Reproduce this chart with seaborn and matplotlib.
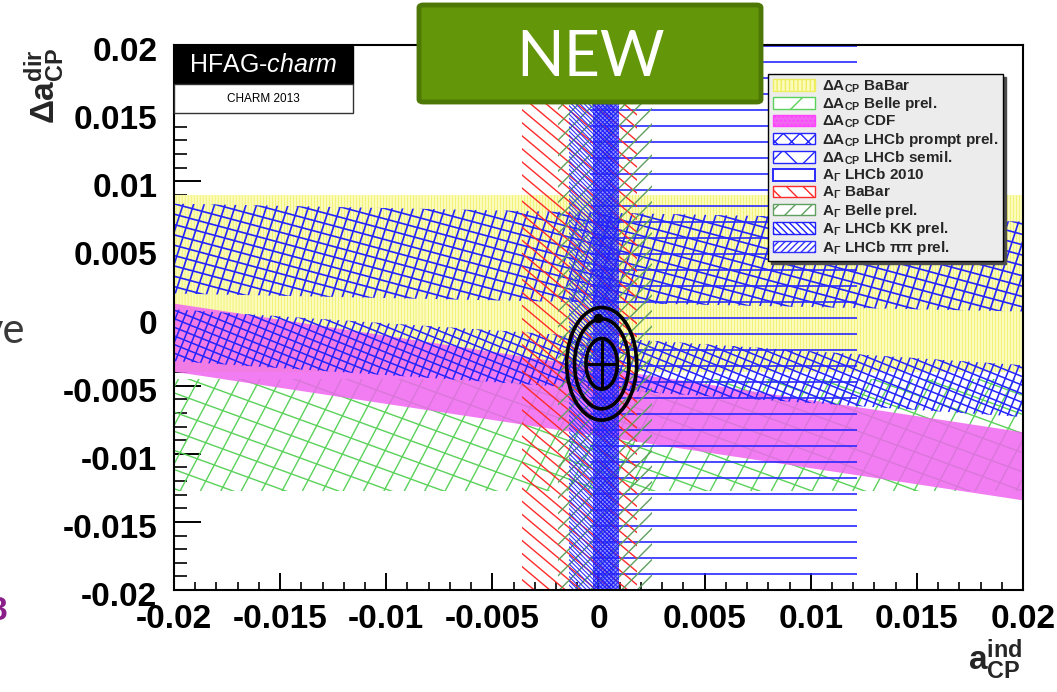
import numpy as np
import matplotlib
matplotlib.use("Agg")
import matplotlib.pyplot as plt
import matplotlib.transforms as mtransforms
import seaborn as sns
import pandas as pd
from matplotlib.patches import Polygon, Rectangle, Ellipse, Patch, FancyBboxPatch
from matplotlib.collections import LineCollection

# ---------------- measurements ----------------
# Delta A_CP bands:  Delta a_dir = center + slope * a_ind  +/- halfwidth
dacp_names = ["BaBar", "Belle prel.", "CDF", "LHCb prompt prel.", "LHCb semil."]
dacp_center = [0.0025, -0.00865, -0.0062, -0.00335, 0.0044]
dacp_halfwidth = [0.0065, 0.0041, 0.0025, 0.0019, 0.0033]
dacp_slope = [0.0, 0.0, -0.236, -0.1025, -0.033]

# A_Gamma bands:  a_ind = center +/- err  (vertical bands)
agam_names = ["LHCb 2010", "BaBar", "Belle prel.", "LHCb KK prel.", "LHCb \u03c0\u03c0 prel."]
agam_center = [0.0059, -0.0009, 0.0003, 0.00035, -0.00033]
agam_err = [0.0063, 0.0027, 0.0022, 0.00063, 0.00107]

# combined fit: central value, 1D errors and contour half-axes
fit_x, fit_y = 0.00015, -0.0034
fit_ex, fit_ey = 0.00068, 0.0017
contour_rx = [0.00074, 0.00128, 0.00165]
contour_ry = [0.00186, 0.0033, 0.00413]
# no-CPV point
nocpv = pd.DataFrame({"a_ind": [0.0], "da_dir": [0.0]})

xlim = (-0.02, 0.02)
ylim = (-0.02, 0.02)
major_ticks = [-0.02, -0.015, -0.01, -0.005, 0, 0.005, 0.01, 0.015, 0.02]
tick_labels = ["-0.02", "-0.015", "-0.01", "-0.005", "0", "0.005", "0.01", "0.015", "0.02"]

# ---------------- style ----------------
sns.set_style("white")
plt.rcParams["font.family"] = ["Liberation Sans", "DejaVu Sans"]
plt.rcParams["axes.unicode_minus"] = False
plt.rcParams["mathtext.fontset"] = "custom"
plt.rcParams["mathtext.rm"] = "Liberation Sans:bold"
plt.rcParams["mathtext.bf"] = "Liberation Sans:bold"
plt.rcParams["mathtext.it"] = "Liberation Sans:italic"
plt.rcParams["mathtext.default"] = "bf"
plt.rcParams["hatch.linewidth"] = 1.0

W_PX, H_PX = 1057, 692
fig = plt.figure(figsize=(W_PX / 100, H_PX / 100), dpi=100)
fig.patch.set_facecolor("white")


def fx(px):
    return px / W_PX


def fy(py):
    return 1 - py / H_PX


ax = fig.add_axes([fx(174), fy(590), fx(1023) - fx(174), fy(45) - fy(590)])
ax.set_xlim(*xlim)
ax.set_ylim(*ylim)
ax.set_facecolor("white")


def hatch_band(verts, angles, spacing, color, lw, z):
    """Parallel line texture (angles in screen degrees, spacing in px) clipped to a polygon."""
    clip = Polygon(verts, closed=True, transform=ax.transData, fill=False,
                   linewidth=0, edgecolor="none")
    ax.add_patch(clip)
    W, H = ax.bbox.width, ax.bbox.height
    L = np.hypot(W, H)
    c = np.array([W / 2, H / 2])
    segs = []
    for a in angles:
        t = np.deg2rad(a)
        d = np.array([np.cos(t), np.sin(t)])
        n = np.array([-np.sin(t), np.cos(t)])
        m = int(np.ceil(L / 2 / spacing)) + 1
        for k in range(-m, m + 1):
            p = c + k * spacing * n
            p0, p1 = p - L * d, p + L * d
            segs.append([(p0[0] / W, p0[1] / H), (p1[0] / W, p1[1] / H)])
    lc = LineCollection(segs, colors=color, linewidths=lw, transform=ax.transAxes, zorder=z)
    ax.add_collection(lc, autolim=False)
    lc.set_clip_path(clip)
    return lc


def dacp_verts(i):
    x0, x1 = xlim
    lo0 = dacp_center[i] + dacp_slope[i] * x0 - dacp_halfwidth[i]
    hi0 = dacp_center[i] + dacp_slope[i] * x0 + dacp_halfwidth[i]
    lo1 = dacp_center[i] + dacp_slope[i] * x1 - dacp_halfwidth[i]
    hi1 = dacp_center[i] + dacp_slope[i] * x1 + dacp_halfwidth[i]
    return [(x0, lo0), (x1, lo1), (x1, hi1), (x0, hi0)]


def agam_verts(i):
    l = agam_center[i] - agam_err[i]
    r = agam_center[i] + agam_err[i]
    return [(l, ylim[0]), (r, ylim[0]), (r, ylim[1]), (l, ylim[1])]


# ---- Delta A_CP bands ----
# BaBar: pale yellow with fine vertical lines
ax.add_patch(Polygon(dacp_verts(0), closed=True, facecolor="#fbfbbc", edgecolor="none", zorder=1))
hatch_band(dacp_verts(0), [90], 3.0, "#f2f270", 0.6, 1.1)
# Belle: green crosshatch
hatch_band(dacp_verts(1), [62, -20], 18, "#5ad25a", 1.0, 2)
# CDF: magenta
ax.add_patch(Polygon(dacp_verts(2), closed=True, facecolor="#f066f0", edgecolor="none",
                     alpha=0.85, zorder=3))
# LHCb prompt / semileptonic: blue crosshatch
hatch_band(dacp_verts(3), [68, -22], 8, "#2424ff", 1.1, 4)
hatch_band(dacp_verts(4), [72, -15], 10, "#2424ff", 1.2, 4.1)

# ---- A_Gamma bands ----
hatch_band(agam_verts(0), [0], 16, "#2a2aff", 1.2, 5)
hatch_band(agam_verts(1), [-40], 10, "#ff2a2a", 1.0, 5.1)
hatch_band(agam_verts(2), [45], 11, "#5f9f5f", 1.0, 5.2)
hatch_band(agam_verts(4), [-45], 3.0, "#3030ff", 0.8, 5.3)
ax.add_patch(Polygon(agam_verts(3), closed=True, facecolor="#3a3aff", edgecolor="none",
                     alpha=0.55, zorder=5.4))
hatch_band(agam_verts(3), [45, -45], 3.0, "#1a1aff", 0.6, 5.5)

# ---- combined fit ----
for rx, ry in zip(contour_rx, contour_ry):
    ax.add_patch(Ellipse((fit_x, fit_y), 2 * rx, 2 * ry, fill=False, edgecolor="black",
                         linewidth=2.6, zorder=10))
ax.plot([fit_x - fit_ex, fit_x + fit_ex], [fit_y, fit_y], color="black", lw=2.2, zorder=11)
ax.plot([fit_x, fit_x], [fit_y - fit_ey, fit_y + fit_ey], color="black", lw=2.2, zorder=11)
sns.scatterplot(data=nocpv, x="a_ind", y="da_dir", ax=ax, color="black", s=40,
                edgecolor="black", zorder=12, legend=False)

# ---- axes ----
ax.set_xticks(major_ticks)
ax.set_xticklabels(tick_labels)
ax.set_yticks(major_ticks)
ax.set_yticklabels(tick_labels)
ax.set_xticks(np.arange(-0.02, 0.02001, 0.001), minor=True)
ax.set_yticks(np.arange(-0.02, 0.02001, 0.001), minor=True)
ax.tick_params(axis="both", which="both", direction="in", top=False, right=False,
               bottom=True, left=True, colors="black", zorder=20)
ax.tick_params(axis="x", which="major", length=12, width=1.4, pad=10, labelsize=24)
ax.tick_params(axis="x", which="minor", length=6, width=1.2)
ax.tick_params(axis="y", which="major", length=19.5, width=1.4, pad=12, labelsize=24)
ax.tick_params(axis="y", which="minor", length=9.5, width=1.2)
shift_down = mtransforms.ScaledTranslation(0, -0.04, fig.dpi_scale_trans)
for lab in ax.get_xticklabels() + ax.get_yticklabels():
    lab.set_fontweight("bold")
for lab in ax.get_yticklabels():
    lab.set_transform(lab.get_transform() + shift_down)
for sp in ax.spines.values():
    sp.set_visible(True)
    sp.set_color("black")
    sp.set_linewidth(1.5)
    sp.set_zorder(25)
ax.set_xlabel("")
ax.set_ylabel("")

fig.text(fx(995), fy(660), r"$a^{ind}_{CP}$", fontsize=24, ha="center", va="center")
fig.text(fx(45), fy(86), r"$\Delta a^{dir}_{CP}$", fontsize=24, ha="center", va="center",
         rotation=90)

# ---- legend ----
handles = [
    Patch(facecolor="#fbfbbc", edgecolor="#eeee60", hatch="||||", linewidth=1),
    Patch(facecolor="white", edgecolor="#5ad25a", hatch="/", linewidth=1),
    Patch(facecolor="#f066f0", edgecolor="#ff44ff", hatch="....", linewidth=1),
    Patch(facecolor="white", edgecolor="#2424ff", hatch="xx", linewidth=1),
    Patch(facecolor="white", edgecolor="#2424ff", hatch="x", linewidth=1),
    Patch(facecolor="white", edgecolor="#2a2aff", linewidth=1.4),
    Patch(facecolor="white", edgecolor="#ff2a2a", hatch="\\\\", linewidth=1),
    Patch(facecolor="white", edgecolor="#5f9f5f", hatch="//", linewidth=1),
    Patch(facecolor="white", edgecolor="#2020ff", hatch="\\\\\\\\\\", linewidth=1),
    Patch(facecolor="white", edgecolor="#3030ff", hatch="/////", linewidth=1),
]
labels = ["\u0394A$_{CP}$ " + n for n in dacp_names] + ["A$_{\\Gamma}$ " + n for n in agam_names]
leg = ax.legend(handles, labels, loc="upper left", bbox_to_anchor=(fx(768), fy(74)),
                bbox_transform=fig.transFigure, frameon=True, fancybox=False,
                shadow={"color": "0.3", "alpha": 1.0}, facecolor="#ececec", edgecolor="black",
                framealpha=1, borderaxespad=0, borderpad=0.3, handlelength=2.8,
                handleheight=0.8, handletextpad=0.45, labelspacing=0.03,
                prop={"weight": "bold", "size": 11})
leg.get_frame().set_linewidth(1.0)
leg.set_zorder(30)

# ---- HFAG label ----
fig.add_artist(Rectangle((fx(174), fy(84)), fx(353) - fx(174), fy(46) - fy(84),
                         transform=fig.transFigure, facecolor="black", edgecolor="black",
                         linewidth=1, zorder=40))
fig.add_artist(Rectangle((fx(174), fy(113)), fx(353) - fx(174), fy(84) - fy(113),
                         transform=fig.transFigure, facecolor="white", edgecolor="#333333",
                         linewidth=1, zorder=40))
fig.text(fx(263), fy(65), r"HFAG-$\mathit{charm}$", color="white", fontsize=18,
         ha="center", va="center", zorder=41, fontweight="normal")
fig.text(fx(263), fy(99), "CHARM 2013", color="black", fontsize=8.5,
         ha="center", va="center", zorder=41)

# ---- NEW badge ----
fig.add_artist(FancyBboxPatch((fx(419), fy(102)), fx(761) - fx(419), fy(5) - fy(102),
                              boxstyle="round,pad=0,rounding_size=0.004",
                              transform=fig.transFigure, facecolor="#64960a",
                              edgecolor="#4d7806", linewidth=3.5, zorder=45))
fig.text(fx(591), fy(58), "NEW", color="white", fontsize=45, family=["Lato", "DejaVu Sans"],
         fontweight="normal", ha="center", va="center", zorder=46)

# slide fragments around the chart
fig.text(fx(25), fy(343), "ve", color="#3a3a3a", fontsize=30, family=["Lato", "DejaVu Sans"],
         fontweight="normal", ha="right", va="baseline")
fig.text(fx(8), fy(620), "8", color="#8a1f8a", fontsize=24, fontweight="bold",
         ha="right", va="baseline")

fig.savefig("out.png", dpi=100)
